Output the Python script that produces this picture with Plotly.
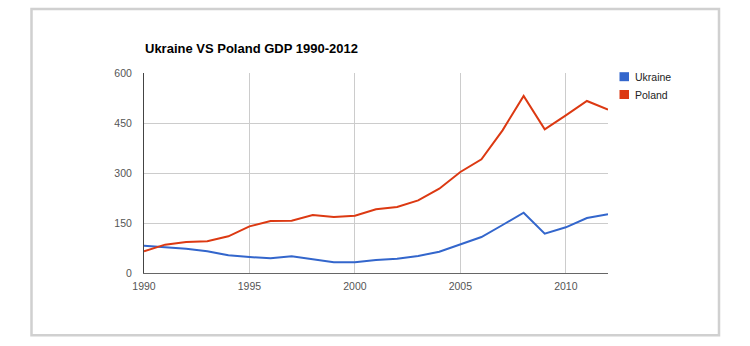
import plotly.graph_objects as go

years = list(range(1990, 2013))
ukraine = [82, 78, 73, 65, 53, 48, 44, 50, 42, 32, 32, 39, 43, 51, 64, 86, 108, 144, 181, 118, 137, 165, 176]
poland = [65, 85, 93, 95, 110, 140, 156, 157, 174, 168, 172, 191, 198, 218, 253, 303, 341, 428, 531, 431, 473, 516, 490]
series_names = ["Ukraine", "Poland"]
series_colors = ["#3366cc", "#dc3912"]
x_ticks = [1990, 1995, 2000, 2005, 2010]
y_ticks = [0, 150, 300, 450, 600]
title_text = "Ukraine VS Poland GDP 1990-2012"

FONT = "Arial, 'Liberation Sans', sans-serif"
L, R, T, B = 144, 142, 73, 73
W, H = 750, 346
PW, PH = W - L - R, H - T - B

def px(x):
    return (x - L) / PW

def py(y):
    return (H - B - y) / PH

fig = go.Figure()
for name, vals, col in zip(series_names, [ukraine, poland], series_colors):
    fig.add_trace(go.Scatter(x=years, y=vals, mode="lines", name=name,
                             line=dict(color=col, width=2), showlegend=False))

shapes = []
annotations = []
# outer frame
shapes.append(dict(type="rect", xref="paper", yref="paper",
                   x0=px(31.5), x1=px(719), y0=py(9), y1=py(335.3),
                   line=dict(color="#d0d0d0", width=2.5), layer="below"))
# legend (manual)
leg_y = [76.7, 94.5]
for name, col, yy in zip(series_names, series_colors, leg_y):
    shapes.append(dict(type="rect", xref="paper", yref="paper",
                       x0=px(619.5), x1=px(629), y0=py(yy - 4.5), y1=py(yy + 4.5),
                       fillcolor=col, line=dict(width=0)))
    annotations.append(dict(text=name, xref="paper", yref="paper",
                            x=px(633), y=py(yy), xanchor="left", yanchor="middle",
                            showarrow=False, font=dict(family=FONT, size=10.5, color="#222222")))
# title
annotations.append(dict(text="<b>" + title_text + "</b>", xref="paper", yref="paper",
                        x=px(143), y=py(48.5), xanchor="left", yanchor="middle",
                        showarrow=False, font=dict(family=FONT, size=13, color="#000000")))

fig.update_layout(
    width=W, height=H,
    margin=dict(l=L, r=R, t=T, b=B, pad=0),
    paper_bgcolor="white", plot_bgcolor="white",
    showlegend=False,
    shapes=shapes, annotations=annotations,
    font=dict(family=FONT, size=10.5, color="#555555"),
)
fig.update_xaxes(range=[1990, 2012], tickvals=x_ticks, ticktext=[str(v) for v in x_ticks],
                 showgrid=True, gridcolor="#cccccc", gridwidth=1,
                 showline=True, linecolor="#666666", linewidth=1, zeroline=False,
                 ticks="", ticklabelstandoff=3,
                 tickfont=dict(family=FONT, size=10.5, color="#555555"), fixedrange=True)
fig.update_yaxes(range=[0, 600], tickvals=y_ticks, ticktext=[str(v) for v in y_ticks],
                 showgrid=True, gridcolor="#cccccc", gridwidth=1,
                 showline=True, linecolor="#444444", linewidth=1, zeroline=False,
                 ticks="", ticklabelstandoff=9,
                 tickfont=dict(family=FONT, size=10.5, color="#555555"), fixedrange=True)

fig.write_html("out.html", config={"displayModeBar": False})
